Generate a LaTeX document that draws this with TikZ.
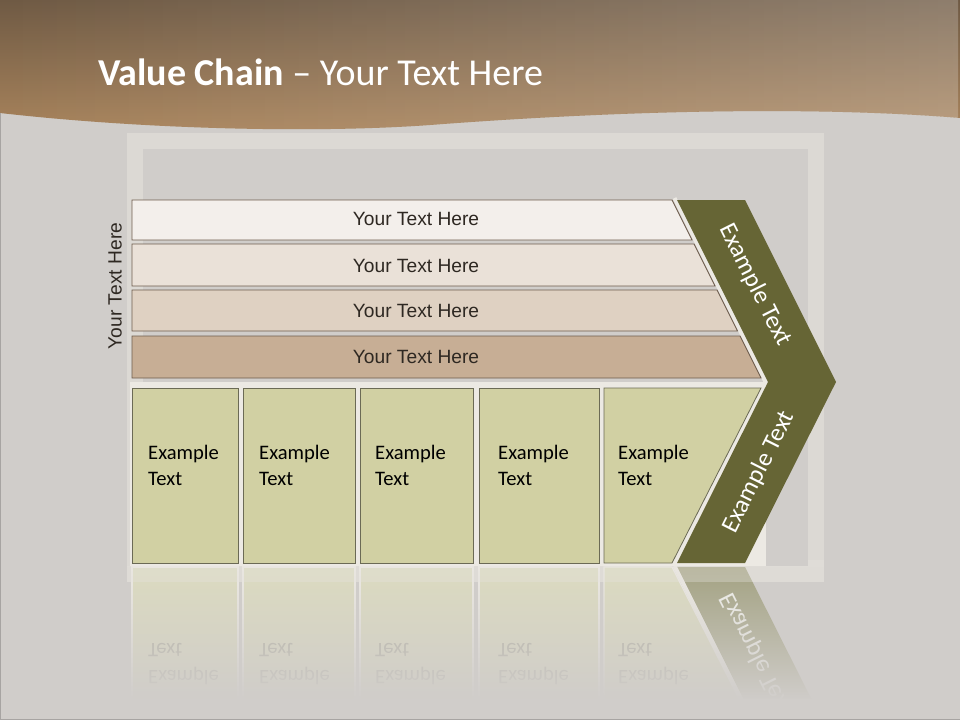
\documentclass[tikz,border=0pt]{standalone}
\usepackage{fontspec}
\usepackage{graphicx}
\setmainfont{Carlito}
\newfontfamily\arialf{Liberation Sans}
\usetikzlibrary{fadings}
\definecolor{bgc}{HTML}{D0CDCA}
\definecolor{framec}{HTML}{E6E3DE}
\definecolor{hdtop}{HTML}{6F5A44}
\definecolor{hdbot}{HTML}{A9845C}
\definecolor{barA}{HTML}{F3EFEB}
\definecolor{barB}{HTML}{EAE1D8}
\definecolor{barC}{HTML}{DFD1C2}
\definecolor{barD}{HTML}{C7AE95}
\definecolor{barline}{HTML}{6E5D4E}
\definecolor{boxfill}{HTML}{D1D0A3}
\definecolor{boxline}{HTML}{6B6A55}
\definecolor{chev}{HTML}{666535}
\definecolor{gapc}{HTML}{ECE9E3}
\definecolor{reflbox}{HTML}{DCDBC0}
\definecolor{reflchev}{HTML}{A3A282}
\definecolor{refltext}{HTML}{ADAB9C}
\definecolor{bartextc}{HTML}{2E2822}
\tikzfading[name=fadedown, top color=transparent!100, bottom color=transparent!0]
\begin{document}
\begin{tikzpicture}[x=1pt,y=-1pt,
  barshape/.style={draw=barline, line width=0.9pt},
  boxshape/.style={fill=boxfill, draw=boxline, line width=0.8pt},
  bartext/.style={font=\arialf\fontsize{19.2}{22}\selectfont, text=bartextc, inner sep=0pt},
  boxtext/.style={font=\fontsize{20.6}{26}\selectfont, align=left, text=black, inner sep=0pt, anchor=west},
  chevtext/.style={font=\fontsize{25}{30}\selectfont, text=white, inner sep=0pt},
  reftext/.style={font=\fontsize{20.6}{26}\selectfont, text=refltext, inner sep=0pt, anchor=base west},
  reflbx/.style={fill=reflbox, draw=gapc, line width=1.2pt}]
\useasboundingbox (0,0) rectangle (960,720);
% background
\fill[bgc] (0,0) rectangle (960,720);
\draw[framec, line width=16pt, opacity=0.55] (134.5,140.5) rectangle (815.5,573.5);
% header
\shade[top color=hdtop, bottom color=hdbot] (0,0) -- (960,0) -- (960,118) .. controls (800,105) and (600,112) .. (430,125) .. controls (320,133) and (150,130) .. (0,113) -- cycle;
\fill[white, opacity=0.22, path fading=west] (0,0) -- (960,0) -- (960,118) .. controls (800,105) and (600,112) .. (430,125) .. controls (320,133) and (150,130) .. (0,113) -- cycle;
\node[anchor=base west, inner sep=0pt, text=white, font=\fontsize{38}{44}\selectfont] (title) at (98,85) {\textbf{Value Chain} -- Your Text Here};
% light backing
\fill[gapc] (130,382) rectangle (766,566);
\draw[gapc, line width=4pt] (674.5,198) -- (765.5,382) -- (674.5,566);
% bars
\draw[barshape, fill=barA] (132,200) -- (672,200) -- (692,240) -- (132,240) -- cycle;
\draw[barshape, fill=barB] (132,244) -- (694,244) -- (715,286) -- (132,286) -- cycle;
\draw[barshape, fill=barC] (132,290) -- (717,290) -- (737.5,331) -- (132,331) -- cycle;
\draw[barshape, fill=barD] (132,336) -- (740,336) -- (761,378) -- (132,378) -- cycle;
\node[bartext] (t1) at (416,219) {Your Text Here};
\node[bartext] (t2) at (416,266) {Your Text Here};
\node[bartext] (t3) at (416,311) {Your Text Here};
\node[bartext] (t4) at (416,357) {Your Text Here};
\node[bartext, rotate=90] (side) at (115,286) {Your Text Here};
% chevron
\fill[chev] (677,200) -- (745,200) -- (836,382) -- (745,563) -- (677,563) -- (768,382) -- cycle;
\node[chevtext, rotate=-63.4] (c1) at (755,285) {Example Text};
\node[chevtext, rotate=63.4] (c2) at (759,472) {Example Text};
% boxes
\draw[boxshape] (132,388) rectangle (238,563);
\draw[boxshape] (243,388) rectangle (355,563);
\draw[boxshape] (360,388) rectangle (473,563);
\draw[boxshape] (479,388) rectangle (599,563);
\draw[boxshape] (604,388) -- (761,388) -- (672,563) -- (604,563) -- cycle;
\node[boxtext] (e1) at (148,465) {Example\\Text};
\node[boxtext] (e2) at (259,465) {Example\\Text};
\node[boxtext] (e3) at (375,465) {Example\\Text};
\node[boxtext] (e4) at (498,465) {Example\\Text};
\node[boxtext] (e5) at (618,465) {Example\\Text};
% reflection
\begin{scope}
\clip (0,565) rectangle (960,704);
\draw[reflbx] (132,567) rectangle (238,742);
\draw[reflbx] (243,567) rectangle (355,742);
\draw[reflbx] (360,567) rectangle (473,742);
\draw[reflbx] (479,567) rectangle (599,742);
\draw[reflbx] (604,567) -- (672,567) -- (761,742) -- (604,742) -- cycle;
\fill[reflchev] (677,567) -- (745,567) -- (836,748) -- (768,748) -- cycle;
\draw[gapc, line width=4pt] (674.5,566) -- (765.5,748);
\foreach \n/\x in {1/148,2/259,3/375,4/498,5/618}{
  \node[reftext] (rt\n) at (\x,643) {\scalebox{1}[-1]{Text}};
  \node[reftext] (re\n) at (\x,670) {\scalebox{1}[-1]{Example}};
}
\node[chevtext, text=white!85!reflchev, rotate=-63.4] (rc) at (756,654) {\scalebox{1}[-1]{Example Text}};
\end{scope}
\fill[bgc, path fading=fadedown] (0,566) rectangle (960,700);
\fill[bgc] (0,699) rectangle (960,720);
\draw[framec, line width=16pt, opacity=0.35] (126.5,573.5) -- (815.5,573.5) -- (815.5,560);
\draw[bgc!80!black, line width=1pt] (0.5,113) -- (0.5,719.5) -- (960,719.5);
\end{tikzpicture}
\end{document}
